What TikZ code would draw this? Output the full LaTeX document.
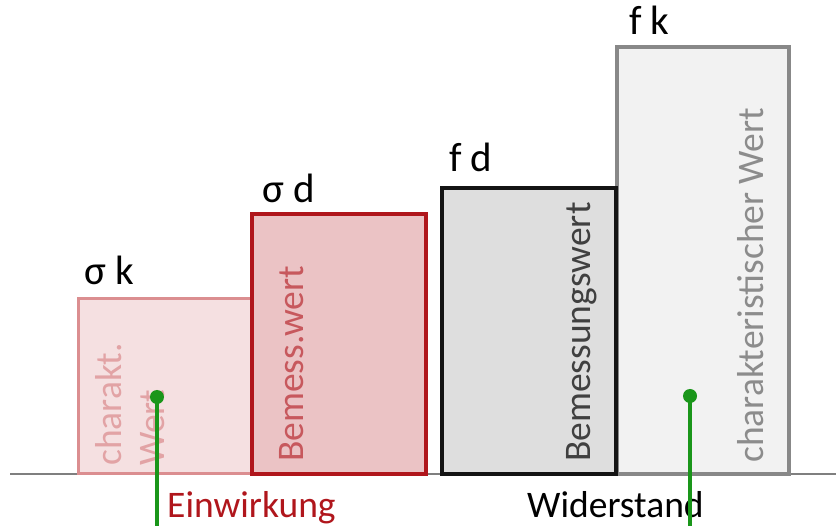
\documentclass[tikz,border=0pt]{standalone}
\usepackage{fontspec}
\setmainfont{Carlito}
\definecolor{bOneFill}{HTML}{F5E0E1}
\definecolor{bOneDraw}{HTML}{DB8E90}
\definecolor{bOneText}{HTML}{E2A3A5}
\definecolor{bTwoFill}{HTML}{EBC3C5}
\definecolor{bTwoDraw}{HTML}{B0161C}
\definecolor{bTwoText}{HTML}{C7585D}
\definecolor{bThreeFill}{HTML}{DEDEDE}
\definecolor{bThreeDraw}{HTML}{141414}
\definecolor{bThreeText}{HTML}{404040}
\definecolor{bFourFill}{HTML}{F2F2F2}
\definecolor{bFourDraw}{HTML}{888888}
\definecolor{bFourText}{HTML}{8C8C8C}
\definecolor{axisgray}{HTML}{7F7F7F}
\definecolor{leadgreen}{HTML}{1A961A}
\definecolor{einred}{HTML}{B0161C}
\tikzset{
  valuelabel/.style={inner sep=0pt, anchor=base west, font=\fontsize{41}{44}\selectfont},
  rottext/.style={inner sep=0pt, anchor=west, rotate=90, font=\fontsize{37.5}{43}\selectfont},
  bottomlabel/.style={inner sep=0pt, anchor=base west, font=\fontsize{37.5}{40}\selectfont},
  greenlead/.style={draw=leadgreen, line width=3.2pt},
  greendot/.style={fill=leadgreen},
}
\begin{document}
\begin{tikzpicture}[x=1pt,y=-1pt]
\useasboundingbox (0,0) rectangle (836,526);
% axis
\coordinate (axL) at (10,474);
\coordinate (axR) at (836,474);
\draw[axisgray, line width=2pt] (axL) -- (axR);
% boxes
\draw[fill=bOneFill, draw=bOneDraw, line width=3pt] (78,299) rectangle (251,474);
\draw[fill=bTwoFill, draw=bTwoDraw, line width=3.5pt] (252,214) rectangle (426,474);
\draw[fill=bFourFill, draw=bFourDraw, line width=3.5pt] (617,47) rectangle (789,474);
\draw[fill=bThreeFill, draw=bThreeDraw, line width=4pt] (442,188) rectangle (616,474);
% value labels
\node[valuelabel] (sk) at (84,285) {σ k};
\node[valuelabel] (sd) at (262,203) {σ d};
\node[valuelabel] (fd) at (449,172) {f d};
\node[valuelabel] (fk) at (629,35) {f k};
% rotated texts
\node[rottext, text=bOneText, align=left] (t1) at (130,466) {charakt.\\Wert};
\node[rottext, text=bTwoText] (t2) at (292,462) {Bemess.wert};
\node[rottext, text=bThreeText] (t3) at (582,462) {Bemessungswert};
\node[rottext, text=bFourText] (t4) at (751,463) {charakteristischer Wert};
% bottom labels
\node[bottomlabel, text=einred] (ein) at (167,518) {Einwirkung};
\node[bottomlabel, text=black] (wid) at (527,518) {Widerstand};
% green leads
\coordinate (dA) at (157,397);
\coordinate (eA) at (157,526);
\coordinate (dB) at (690,396);
\coordinate (eB) at (690,526);
\draw[greenlead] (eA) -- (dA);
\draw[greenlead] (eB) -- (dB);
\fill[greendot] (dA) circle (7pt);
\fill[greendot] (dB) circle (7pt);
\end{tikzpicture}
\end{document}
